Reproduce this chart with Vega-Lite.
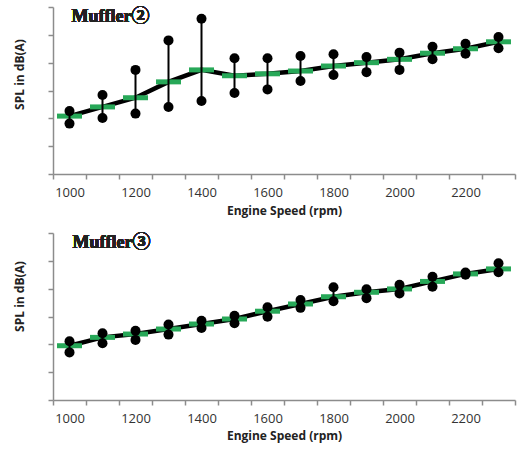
{
  "$schema": "https://vega.github.io/schema/vega-lite/v6.json",
  "padding": {"left": 12, "top": 6, "right": 4, "bottom": 3},
  "spacing": 16,
  "background": "white",
  "config": {
    "view": {"stroke": null},
    "font": "Open Sans",
    "axis": {
      "grid": false,
      "domainColor": "#8c8c8c",
      "domainWidth": 1.5,
      "tickColor": "#8c8c8c",
      "tickWidth": 1.5,
      "tickSize": 5,
      "labelColor": "#333333",
      "titleColor": "#222222",
      "labelFont": "Open Sans",
      "titleFont": "Open Sans",
      "titleFontWeight": "bold",
      "titleFontSize": 12,
      "labelFontSize": 13
    }
  },
  "datasets": {
    "m2": [
      {"rpm": 1000, "mean": 70.8, "lo": 68.1, "hi": 72.6},
      {"rpm": 1100, "mean": 74.1, "lo": 70.1, "hi": 78.4},
      {"rpm": 1200, "mean": 77.4, "lo": 71.7, "hi": 87.4},
      {"rpm": 1300, "mean": 83.1, "lo": 74.1, "hi": 98.0},
      {"rpm": 1400, "mean": 87.4, "lo": 76.2, "hi": 105.8},
      {"rpm": 1500, "mean": 85.3, "lo": 79.1, "hi": 91.6},
      {"rpm": 1600, "mean": 86.0, "lo": 80.4, "hi": 91.6},
      {"rpm": 1700, "mean": 87.0, "lo": 83.4, "hi": 92.4},
      {"rpm": 1800, "mean": 88.8, "lo": 85.6, "hi": 93.0},
      {"rpm": 1900, "mean": 90.0, "lo": 86.6, "hi": 92.0},
      {"rpm": 2000, "mean": 91.2, "lo": 87.4, "hi": 93.6},
      {"rpm": 2100, "mean": 93.4, "lo": 91.2, "hi": 95.7},
      {"rpm": 2200, "mean": 95.0, "lo": 93.2, "hi": 96.8},
      {"rpm": 2300, "mean": 97.5, "lo": 95.2, "hi": 99.2}
    ],
    "m3": [
      {"rpm": 1000, "mean": 69.5, "lo": 67.1, "hi": 71.1},
      {"rpm": 1100, "mean": 72.5, "lo": 70.4, "hi": 74.0},
      {"rpm": 1200, "mean": 73.7, "lo": 71.6, "hi": 74.9},
      {"rpm": 1300, "mean": 75.5, "lo": 73.5, "hi": 77.1},
      {"rpm": 1400, "mean": 77.3, "lo": 75.9, "hi": 78.5},
      {"rpm": 1500, "mean": 79.1, "lo": 77.6, "hi": 80.3},
      {"rpm": 1600, "mean": 81.9, "lo": 79.9, "hi": 83.3},
      {"rpm": 1700, "mean": 84.5, "lo": 83.1, "hi": 85.9},
      {"rpm": 1800, "mean": 87.1, "lo": 85.5, "hi": 90.5},
      {"rpm": 1900, "mean": 88.7, "lo": 86.6, "hi": 89.8},
      {"rpm": 2000, "mean": 89.9, "lo": 88.3, "hi": 91.4},
      {"rpm": 2100, "mean": 92.6, "lo": 90.7, "hi": 94.3},
      {"rpm": 2200, "mean": 95.3, "lo": 95.0, "hi": 95.8},
      {"rpm": 2300, "mean": 97.1, "lo": 95.9, "hi": 99.1}
    ]
  },
  "vconcat": [
    {
      "width": 462,
      "height": 167,
      "data": {"name": "m2"},
      "encoding": {
        "x": {"field": "rpm", "type": "ordinal", "scale": {"type": "band", "paddingInner": 0, "paddingOuter": 0},
          "axis": {"title": "Engine Speed (rpm)", "labelAngle": 0, "tickBand": "extent", "labelExpr": "datum.value % 200 == 0 ? datum.label : ''", "labelPadding": 7, "titlePadding": 6}}
      },
      "layer": [
        {"mark": {"type": "line", "color": "black", "strokeWidth": 4.5},
         "encoding": {"y": {"field": "mean", "type": "quantitative", "scale": {"domain": [50, 110], "nice": false},
           "axis": {"title": "SPL in dB(A)", "tickCount": 6, "labels": false, "labelOverlap": false, "titleX": -34, "titleY": 67, "titleAngle": -90, "titleBaseline": "middle", "titleAlign": "center"}}}},
        {"mark": {"type": "tick", "orient": "horizontal", "color": "#27a858", "size": 25, "thickness": 5, "opacity": 1},
         "encoding": {"y": {"field": "mean", "type": "quantitative"}}},
        {"mark": {"type": "rule", "color": "black", "strokeWidth": 2},
         "encoding": {"y": {"field": "lo", "type": "quantitative"}, "y2": {"field": "hi"}}},
        {"mark": {"type": "circle", "color": "black", "size": 100, "opacity": 1},
         "encoding": {"y": {"field": "lo", "type": "quantitative"}}},
        {"mark": {"type": "circle", "color": "black", "size": 100, "opacity": 1},
         "encoding": {"y": {"field": "hi", "type": "quantitative"}}},
        {"mark": {"type": "text", "align": "left", "baseline": "alphabetic", "font": "'Liberation Serif', 'Noto Sans CJK JP'", "fontSize": 18, "fontWeight": "bold", "fill": "#222222", "stroke": null, "dx": 2},
         "encoding": {"text": {"value": "Muffler②"}, "x": {"datum": 1000}, "y": {"datum": 104.6}}}
      ]
    },
    {
      "width": 462,
      "height": 167,
      "data": {"name": "m3"},
      "encoding": {
        "x": {"field": "rpm", "type": "ordinal", "scale": {"type": "band", "paddingInner": 0, "paddingOuter": 0},
          "axis": {"title": "Engine Speed (rpm)", "labelAngle": 0, "tickBand": "extent", "labelExpr": "datum.value % 200 == 0 ? datum.label : ''", "labelPadding": 7, "titlePadding": 5}}
      },
      "layer": [
        {"mark": {"type": "line", "color": "black", "strokeWidth": 4.5},
         "encoding": {"y": {"field": "mean", "type": "quantitative", "scale": {"domain": [50, 110], "nice": false},
           "axis": {"title": "SPL in dB(A)", "tickCount": 6, "labels": false, "labelOverlap": false, "titleX": -34, "titleY": 63, "titleAngle": -90, "titleBaseline": "middle", "titleAlign": "center"}}}},
        {"mark": {"type": "tick", "orient": "horizontal", "color": "#27a858", "size": 25, "thickness": 5, "opacity": 1},
         "encoding": {"y": {"field": "mean", "type": "quantitative"}}},
        {"mark": {"type": "rule", "color": "black", "strokeWidth": 2},
         "encoding": {"y": {"field": "lo", "type": "quantitative"}, "y2": {"field": "hi"}}},
        {"mark": {"type": "circle", "color": "black", "size": 100, "opacity": 1},
         "encoding": {"y": {"field": "lo", "type": "quantitative"}}},
        {"mark": {"type": "circle", "color": "black", "size": 100, "opacity": 1},
         "encoding": {"y": {"field": "hi", "type": "quantitative"}}},
        {"mark": {"type": "text", "align": "left", "baseline": "alphabetic", "font": "'Liberation Serif', 'Noto Sans CJK JP'", "fontSize": 18, "fontWeight": "bold", "fill": "#222222", "stroke": null, "dx": 3},
         "encoding": {"text": {"value": "Muffler③"}, "x": {"datum": 1000}, "y": {"datum": 104.6}}}
      ]
    }
  ]
}
